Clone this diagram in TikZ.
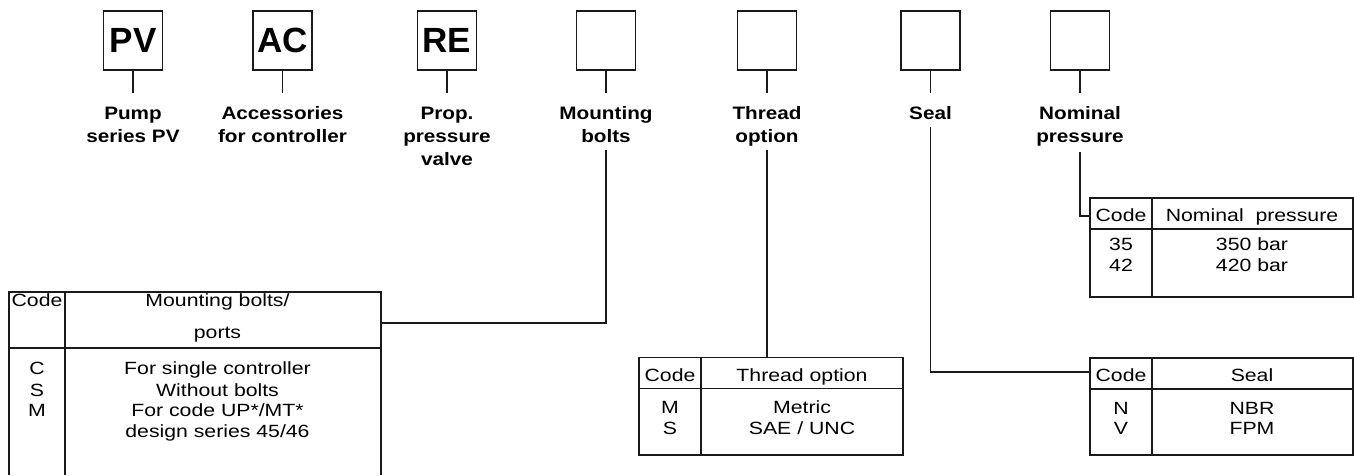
\documentclass[tikz,border=0pt]{standalone}
\usepackage{fontspec}
\setmainfont{Liberation Sans}
\newfontfamily\labfont{Liberation Sans}[FakeStretch=1.15]
\newfontfamily\tabfont{Liberation Sans}[FakeStretch=1.2]
\definecolor{ink}{HTML}{1A1A1A}
\begin{document}
\begin{tikzpicture}[x=1pt,y=-1pt,
  codebox/.style={draw=ink, line width=1.4pt, minimum width=59pt, minimum height=59pt, inner sep=0pt,
    font=\bfseries\fontsize{35}{35}\selectfont},
  lab/.style={font=\labfont\bfseries\fontsize{18}{23}\selectfont, align=center, inner sep=0pt, anchor=base},
  tt/.style={font=\tabfont\fontsize{17.7}{21.5}\selectfont, inner sep=0pt, anchor=base},
  wire/.style={draw=ink, line width=1.3pt},
  tabline/.style={draw=ink, line width=1.3pt}]
\useasboundingbox (0,0) rectangle (1354,475);

% ---- code boxes ----
\node[codebox] (pv) at (133,40.5) {PV};
\node[codebox] (ac) at (282.5,40.5) {AC};
\node[codebox] (re) at (447,40.5) {RE};
\node[codebox] (mb) at (606,40.5) {};
\node[codebox] (th) at (767,40.5) {};
\node[codebox] (se) at (930.5,40.5) {};
\node[codebox] (np) at (1080,40.5) {};

% stems
\foreach \b in {pv,ac,re,mb,th,se,np}
  \draw[wire] (\b.south) -- ++(0,22);

% ---- labels (anchor = baseline of the last line) ----
\node[lab] (lpv) at (133,142.5) {Pump\\series PV};
\node[lab] (lac) at (282.5,142.5) {Accessories\\for controller};
\node[lab] (lre) at (447,165.5) {Prop.\\pressure\\valve};
\node[lab] (lmb) at (606,142.5) {Mounting\\bolts};
\node[lab] (lth) at (767,142.5) {Thread\\option};
\node[lab] (lse) at (930.5,119.5) {Seal};
\node[lab] (lnp) at (1080,142.5) {Nominal\\pressure};

% connector start points (below labels)
\coordinate (cmb) at (606,150);
\coordinate (cth) at (767,150);
\coordinate (cse) at (930.5,127);
\coordinate (cnp) at (1080,152);

% ---- table: mounting bolts ----
\draw[tabline] (9,475) -- (9,292) -- (381,292) -- (381,475);
\draw[tabline] (9,348) -- (381,348);
\draw[tabline] (65,292) -- (65,475);
\coordinate (tmb) at (381,323);
\node[tt] at (37,306.7) {Code};
\node[tt] at (217.5,306.7) {Mounting bolts/};
\node[tt] at (217.5,338) {ports};
\node[tt] at (37,374) {C};
\node[tt] at (217.5,374) {For single controller};
\node[tt] at (37,396) {S};
\node[tt] at (217.5,396) {Without bolts};
\node[tt] at (37,416.7) {M};
\node[tt] at (217.5,416.7) {For code UP*/MT*};
\node[tt] at (217.5,437.5) {design series 45/46};

% ---- table: thread option ----
\draw[tabline] (639,357.3) rectangle (903,455);
\draw[tabline] (639,388.3) -- (903,388.3);
\draw[tabline] (701,357.3) -- (701,455);
\coordinate (tth) at (767,357.3);
\node[tt] at (670,381.5) {Code};
\node[tt] at (802,381.5) {Thread option};
\node[tt] at (670,413.3) {M};
\node[tt] at (802,413.3) {Metric};
\node[tt] at (670,434) {S};
\node[tt] at (802,434) {SAE / UNC};

% ---- table: seal ----
\draw[tabline] (1090,358) rectangle (1353,455);
\draw[tabline] (1090,389) -- (1353,389);
\draw[tabline] (1152,358) -- (1152,455);
\coordinate (tse) at (1090,372);
\node[tt] at (1121,381) {Code};
\node[tt] at (1252,381) {Seal};
\node[tt] at (1121,414.3) {N};
\node[tt] at (1252,414.3) {NBR};
\node[tt] at (1121,434) {V};
\node[tt] at (1252,434) {FPM};

% ---- table: nominal pressure ----
\draw[tabline] (1090,198) rectangle (1353,297);
\draw[tabline] (1090,229) -- (1353,229);
\draw[tabline] (1152,198) -- (1152,297);
\coordinate (tnp) at (1090,216);
\node[tt] at (1121,221.7) {Code};
\node[tt] at (1252,221.7) {Nominal\ \ pressure};
\node[tt] at (1121,250) {35};
\node[tt] at (1252,250) {350 bar};
\node[tt] at (1121,271.7) {42};
\node[tt] at (1252,271.7) {420 bar};

% ---- connectors ----
\draw[wire] (cmb) |- (tmb);
\draw[wire] (cth) -- (tth);
\draw[wire] (cse) |- (tse);
\draw[wire] (cnp) |- (tnp);
\end{tikzpicture}
\end{document}
